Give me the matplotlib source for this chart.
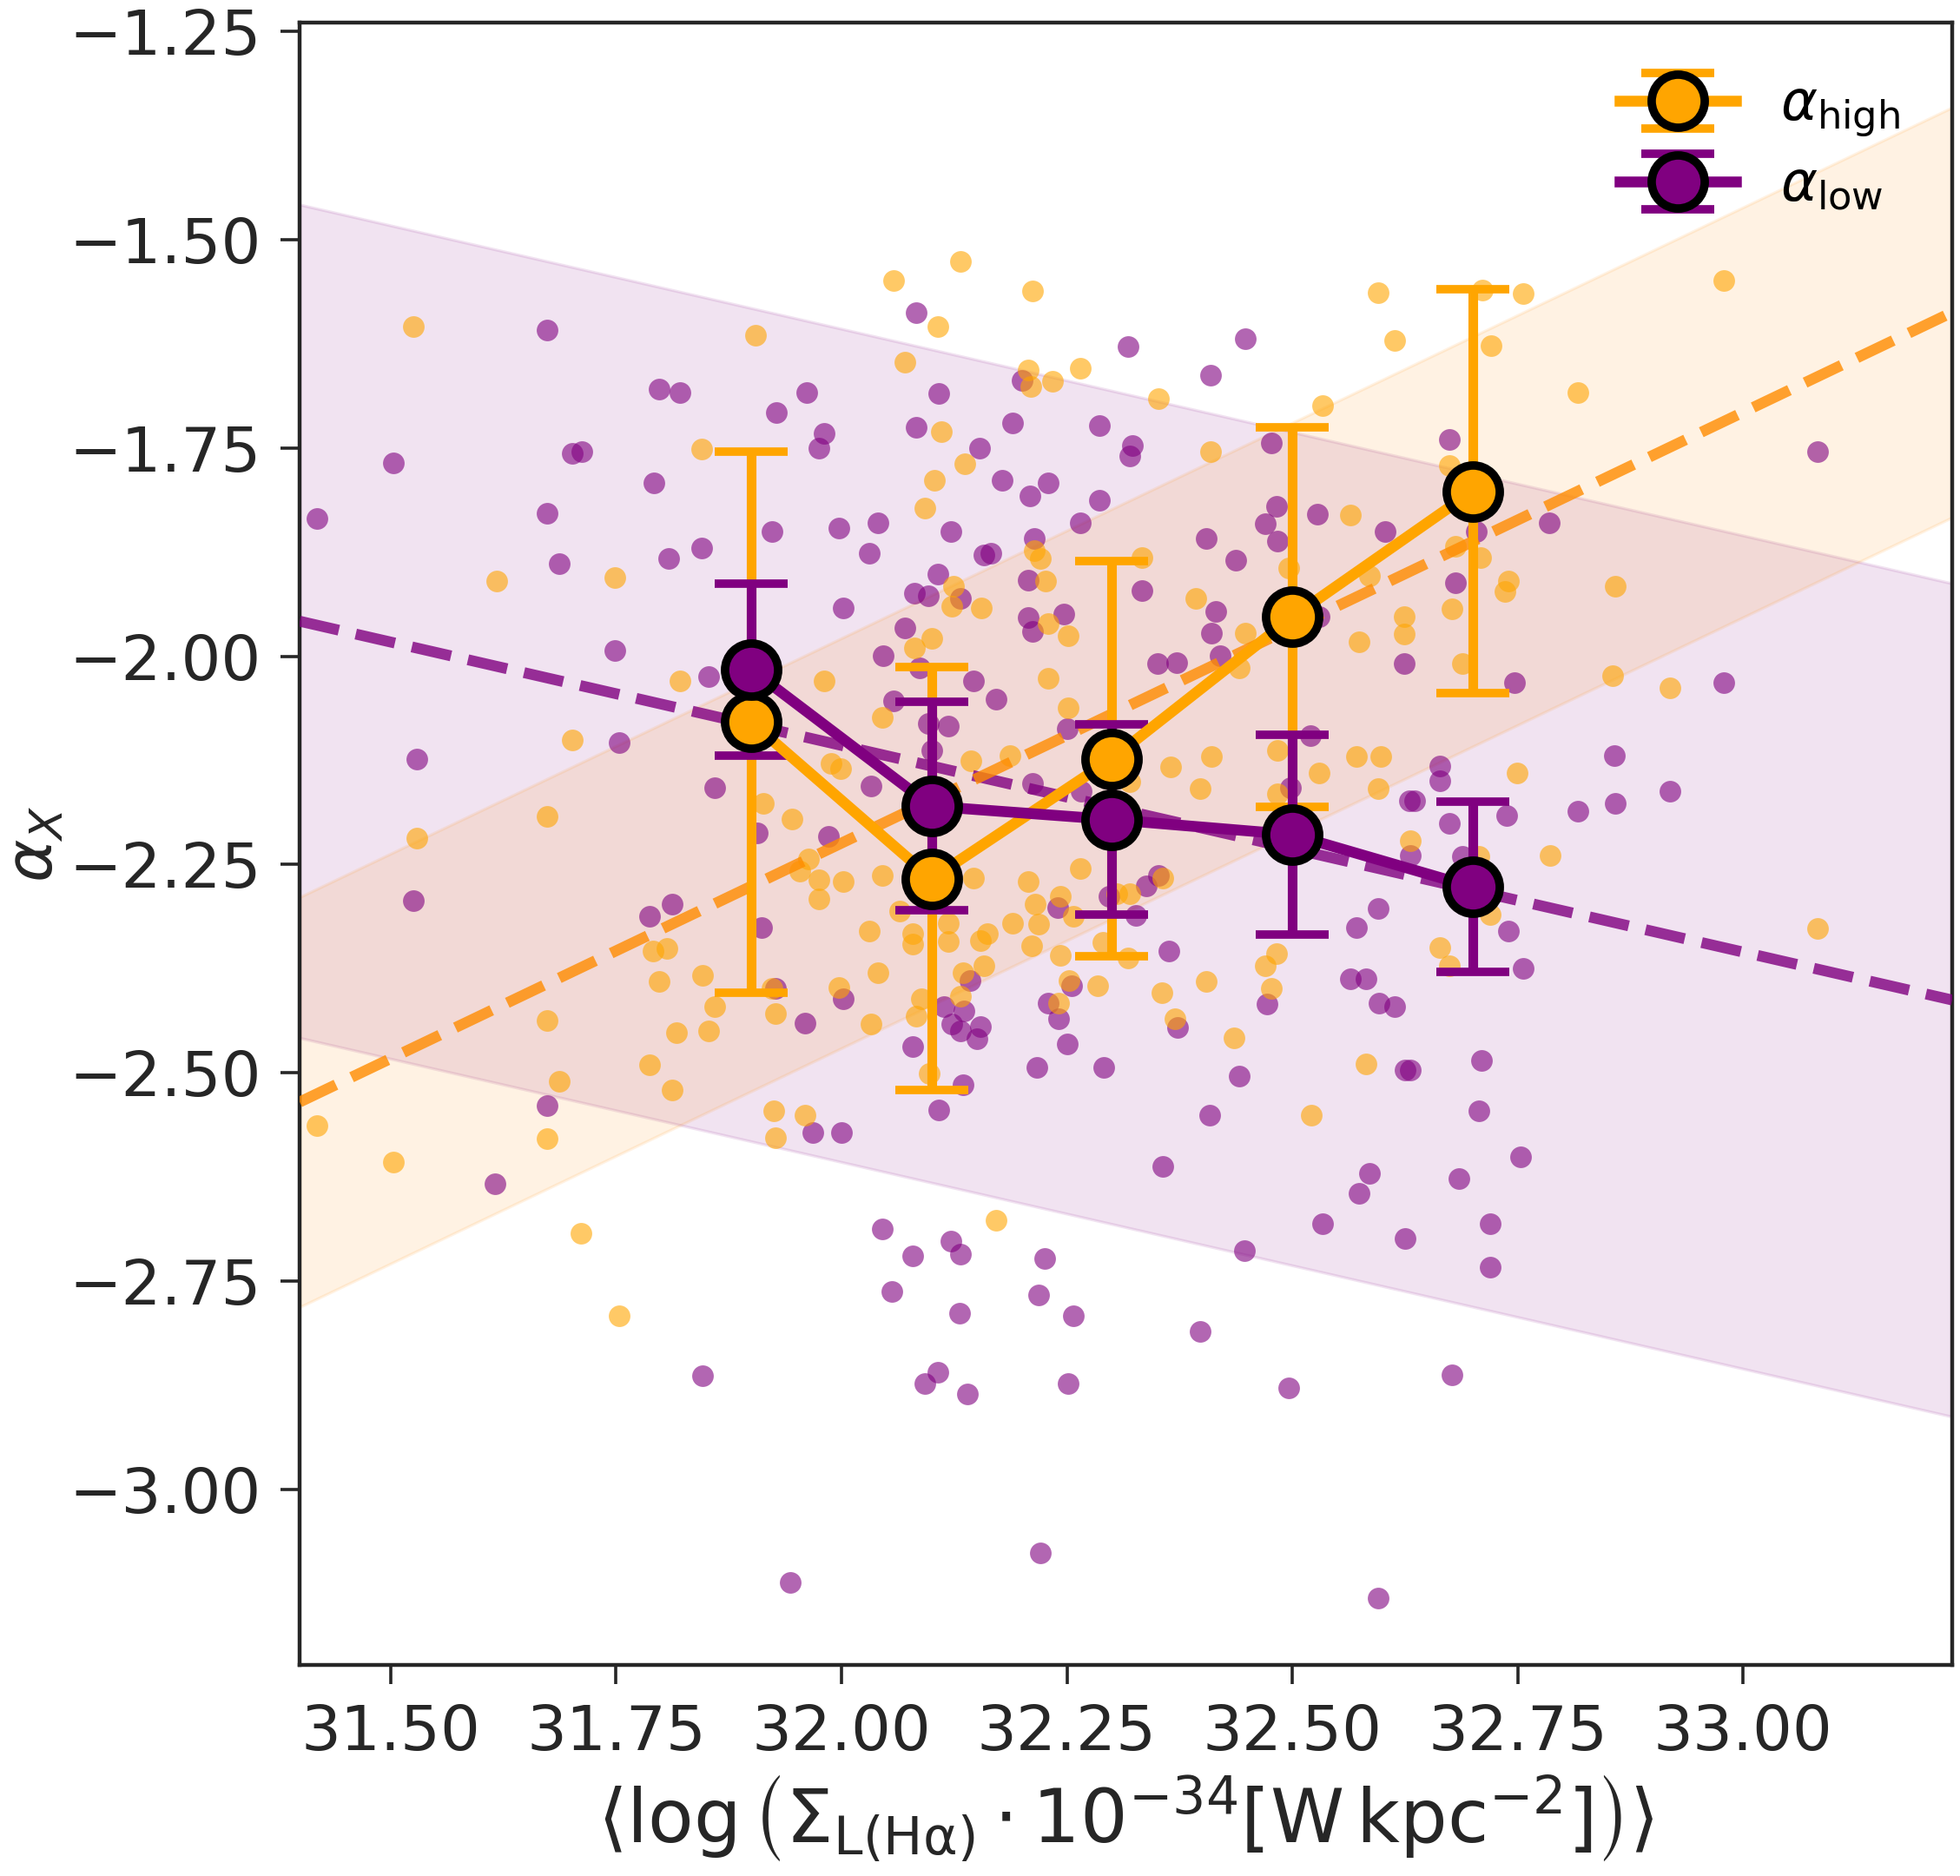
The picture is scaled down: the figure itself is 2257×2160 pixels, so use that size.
import numpy as np
import matplotlib.pyplot as plt

# ---- binned means ----
bin_x = np.array([31.90, 32.10, 32.30, 32.50, 32.70])
high_mean = np.array([-2.079, -2.267, -2.123, -1.953, -1.802])
high_err = np.array([0.325, 0.254, 0.237, 0.228, 0.242])
low_mean = np.array([-2.016, -2.180, -2.196, -2.214, -2.277])
low_err = np.array([0.103, 0.125, 0.114, 0.120, 0.102])

# ---- linear fits (value at x=32.25, slope, band half-width) ----
high_fit = (-2.095, 0.517, 0.246)
low_fit = (-2.169, -0.248, 0.50)

# ---- individual measurements ----
high_x = np.array([
    31.525, 31.905, 31.618, 31.749, 31.845, 31.821, 31.981, 32.058, 32.132, 32.212,
    32.107, 32.595, 32.614, 32.070, 32.207, 32.210, 32.234, 32.265, 32.352, 32.534,
    32.111, 32.409, 32.137, 32.103, 32.092, 32.214, 32.221, 32.333, 32.496, 32.586,
    32.226, 32.124, 32.122, 32.155, 32.393, 32.448, 32.229, 32.251, 32.100, 32.081,
    32.229, 32.441, 32.574, 32.624, 32.624, 32.564, 32.711, 32.756, 32.721, 32.817,
    32.979, 32.674, 32.681, 32.709, 32.740, 32.736, 32.858, 32.677, 32.689, 32.855,
    32.919, 32.749, 32.786, 32.707, 32.631, 32.720, 32.664, 32.674, 33.083, 31.701,
    31.673, 31.529, 31.913, 31.945, 31.988, 31.999, 31.963, 31.954, 31.975, 32.002,
    31.975, 31.791, 31.806, 31.798, 31.846, 31.859, 31.817, 31.853, 31.673, 31.787,
    31.812, 31.687, 31.418, 31.673, 31.503, 31.923, 31.927, 31.997, 31.925, 31.960,
    31.927, 31.711, 31.753, 32.171, 32.045, 32.251, 32.144, 32.187, 32.365, 32.410,
    32.398, 32.484, 32.571, 32.598, 32.530, 32.595, 32.484, 32.320, 32.045, 32.065,
    32.031, 32.079, 32.079, 32.118, 32.118, 32.146, 32.162, 32.154, 32.190, 32.207,
    32.215, 32.219, 32.211, 32.243, 32.257, 32.265, 32.243, 32.040, 32.158, 32.135,
    32.252, 32.284, 32.305, 32.320, 32.356, 32.318, 32.290, 32.405, 32.355, 32.241,
    32.370, 32.435, 32.483, 32.470, 32.477, 32.582, 32.521, 32.132, 32.089, 32.033,
    32.083, 32.097,
])
high_y = np.array([
    -1.604, -1.615, -1.910, -1.906, -1.751, -2.030, -2.030, -1.549, -1.526, -1.562,
    -1.604, -1.564, -1.621, -1.647, -1.657, -1.676, -1.670, -1.654, -1.691, -1.699,
    -1.730, -1.754, -1.769, -1.789, -1.822, -1.873, -1.883, -1.882, -1.894, -1.903,
    -1.910, -1.916, -1.940, -1.942, -1.931, -1.972, -1.961, -1.975, -1.979, -1.990,
    -2.026, -2.014, -1.983, -1.952, -1.973, -1.831, -1.561, -1.565, -1.627, -1.684,
    -1.549, -1.771, -1.868, -1.882, -1.910, -1.922, -1.916, -1.943, -2.009, -2.023,
    -2.038, -2.140, -2.239, -2.240, -2.221, -2.310, -2.350, -2.371, -2.327, -2.100,
    -2.192, -2.218, -2.177, -2.195, -2.129, -2.135, -2.243, -2.258, -2.268, -2.270,
    -2.291, -2.354, -2.351, -2.390, -2.383, -2.420, -2.452, -2.450, -2.437, -2.490,
    -2.521, -2.510, -2.563, -2.579, -2.607, -2.399, -2.429, -2.398, -2.546, -2.551,
    -2.578, -2.692, -2.792, -2.677, -2.073, -2.062, -2.126, -2.119, -2.133, -2.120,
    -2.159, -2.113, -2.120, -2.120, -2.140, -2.159, -2.165, -2.150, -2.263, -2.306,
    -2.330, -2.345, -2.333, -2.320, -2.342, -2.266, -2.333, -2.341, -2.320, -2.270,
    -2.297, -2.321, -2.348, -2.288, -2.312, -2.255, -2.359, -2.380, -2.371, -2.380,
    -2.389, -2.395, -2.285, -2.285, -2.266, -2.362, -2.343, -2.390, -2.404, -2.416,
    -2.435, -2.458, -2.357, -2.371, -2.399, -2.489, -2.551, -2.408, -2.411, -2.441,
    -2.432, -2.501,
])

low_x = np.array([
    31.673, 31.798, 31.821, 31.961, 31.928, 31.981, 31.975, 31.503, 31.701, 31.712,
    31.792, 31.418, 31.673, 31.923, 31.997, 31.687, 31.808, 31.845, 32.002, 31.749,
    31.853, 32.083, 32.318, 32.448, 32.409, 32.200, 32.108, 32.083, 32.190, 32.286,
    32.153, 32.323, 32.320, 32.477, 32.178, 32.229, 32.209, 32.286, 32.040, 32.031,
    32.121, 32.265, 32.483, 32.470, 32.484, 32.528, 32.603, 32.214, 32.158, 32.166,
    32.405, 32.437, 32.107, 32.207, 32.333, 32.081, 32.096, 32.132, 32.415, 32.410,
    32.207, 32.212, 32.247, 32.070, 32.046, 32.087, 32.146, 32.351, 32.372, 32.420,
    32.530, 32.624, 32.674, 33.083, 32.785, 32.704, 32.681, 32.747, 32.979, 32.857,
    32.664, 32.664, 32.636, 32.919, 32.858, 32.817, 32.738, 32.674, 32.689, 32.631,
    32.740, 32.756, 32.710, 32.631, 32.707, 32.753, 32.685, 32.720, 32.720, 32.677,
    31.529, 31.525, 31.753, 31.859, 31.907, 31.986, 31.787, 31.812, 31.911, 31.673,
    31.616, 31.927, 31.960, 32.002, 31.968, 32.000, 31.846, 31.943, 32.045, 32.121,
    32.132, 32.079, 32.225, 32.056, 32.219, 32.131, 32.257, 32.398, 32.107, 32.092,
    32.140, 32.251, 32.496, 32.221, 32.595, 32.447, 32.534, 32.574, 32.625, 32.058,
    32.171, 32.096, 32.118, 32.100, 32.033, 32.250, 32.212, 32.266, 32.520, 32.498,
    32.630, 32.240, 32.297, 32.338, 32.352, 32.327, 32.363, 32.143, 32.255, 32.229,
    32.241, 32.373, 32.250, 32.472, 32.564, 32.582, 32.596, 32.614, 32.595, 32.571,
    32.625, 32.441, 32.408, 32.356, 32.586, 32.291, 32.217, 32.079, 32.135, 32.108,
    32.114, 32.122, 32.132, 32.136, 32.154, 32.150,
])
low_y = np.array([
    -1.609, -1.679, -1.684, -1.684, -1.708, -1.733, -1.750, -1.768, -1.757, -1.754,
    -1.792, -1.835, -1.828, -1.850, -1.846, -1.889, -1.883, -1.870, -1.942, -1.993,
    -2.024, -1.588, -1.628, -1.619, -1.663, -1.669, -1.685, -1.725, -1.720, -1.723,
    -1.750, -1.747, -1.760, -1.744, -1.789, -1.792, -1.808, -1.813, -1.840, -1.876,
    -1.850, -1.840, -1.820, -1.841, -1.862, -1.829, -1.850, -1.859, -1.879, -1.876,
    -1.859, -1.885, -1.901, -1.909, -1.921, -1.924, -1.927, -1.931, -1.946, -1.972,
    -1.954, -1.970, -1.949, -1.966, -1.999, -2.014, -2.030, -2.009, -2.008, -1.999,
    -1.952, -2.009, -1.740, -1.754, -1.840, -1.850, -1.912, -2.032, -2.032, -2.119,
    -2.132, -2.149, -2.173, -2.162, -2.177, -2.186, -2.191, -2.201, -2.240, -2.239,
    -2.330, -2.375, -2.485, -2.497, -2.546, -2.601, -2.627, -2.681, -2.733, -2.862,
    -2.123, -2.293, -2.104, -2.158, -2.212, -2.216, -2.312, -2.297, -2.326, -2.539,
    -2.633, -2.399, -2.440, -2.411, -2.572, -2.572, -2.863, -3.112, -2.687, -2.702,
    -2.717, -2.720, -2.723, -2.762, -2.767, -2.788, -2.792, -2.810, -2.859, -2.873,
    -2.885, -2.873, -2.878, -3.076, -3.130, -2.713, -2.681, -2.645, -2.699, -2.054,
    -2.051, -2.081, -2.084, -2.113, -2.156, -2.087, -2.153, -2.162, -2.095, -2.158,
    -2.173, -2.302, -2.288, -2.276, -2.263, -2.311, -2.354, -2.389, -2.395, -2.416,
    -2.435, -2.446, -2.465, -2.417, -2.387, -2.387, -2.416, -2.420, -2.303, -2.326,
    -2.497, -2.504, -2.551, -2.612, -2.621, -2.493, -2.493, -2.468, -2.514, -2.544,
    -2.420, -2.441, -2.450, -2.426, -2.444, -2.459,
])

c_high = "orange"
c_low = "purple"
x_lim = (31.399, 33.232)
y_lim = (-3.2105, -1.2395)

plt.rcParams["font.family"] = "DejaVu Sans"
plt.rcParams["mathtext.fontset"] = "dejavusans"

fig = plt.figure(figsize=(11.285, 10.8), dpi=200)
ax = fig.add_axes([0.1529, 0.1125, 0.8431, 0.8755])

# fit lines and bands
xx = np.linspace(x_lim[0], x_lim[1], 50)
for (y0, slope, half), col in [(low_fit, c_low), (high_fit, "darkorange")]:
    yy = y0 + slope * (xx - 32.25)
    ax.fill_between(xx, yy - half, yy + half, color=col, alpha=0.11, lw=1.2, zorder=1)
    ax.plot(xx, yy, ls="--", color=col, alpha=0.8, lw=4.5, zorder=3)

# scatter of individual values
ax.scatter(low_x, low_y, s=80, color=c_low, alpha=0.6, lw=0, zorder=2)
ax.scatter(high_x, high_y, s=80, color=c_high, alpha=0.6, lw=0, zorder=2)

# binned means
eb_h = ax.errorbar(bin_x, high_mean, yerr=high_err, fmt="o-", color=c_high, lw=4.5,
                   ms=22, mfc=c_high, mec="black", mew=3.5, elinewidth=4,
                   capsize=15, capthick=3, label=r"$\alpha_{\rm high}$")
eb_l = ax.errorbar(bin_x, low_mean, yerr=low_err, fmt="o-", color=c_low, lw=4.5,
                   ms=22, mfc=c_low, mec="black", mew=3.5, elinewidth=4,
                   capsize=15, capthick=3, label=r"$\alpha_{\rm low}$")
for eb, zb, zl in [(eb_h, 4, 6), (eb_l, 5, 7)]:
    eb[0].set_zorder(zl)
    for c in eb[1]:
        c.set_zorder(zb)
    for c in eb[2]:
        c.set_zorder(zb)

ax.set_xlim(*x_lim)
ax.set_ylim(*y_lim)
ax.set_xticks([31.50, 31.75, 32.00, 32.25, 32.50, 32.75, 33.00])
ax.set_yticks([-3.00, -2.75, -2.50, -2.25, -2.00, -1.75, -1.50, -1.25])
fmt = plt.FuncFormatter(lambda v, pos: f"{v:.2f}".replace("-", "\u2212"))
ax.xaxis.set_major_formatter(fmt)
ax.yaxis.set_major_formatter(fmt)
ax.tick_params(axis="both", direction="out", length=8, width=1.3,
               color="#262626", labelsize=26, labelcolor="#262626", pad=8)

for sp in ax.spines.values():
    sp.set_color("#262626")
    sp.set_linewidth(1.6)

ax.set_xlabel(r"$\langle\log\left(\Sigma_{\mathrm{L(H\alpha)}}\cdot 10^{-34}[\mathrm{W\,kpc^{-2}}]\right)\rangle$",
              fontsize=31, color="#262626", labelpad=4)
ax.set_ylabel(r"$\alpha_X$", fontsize=27, color="#262626", va="center")
ax.yaxis.set_label_coords(-0.16, 0.5)

ax.legend(loc="upper right", bbox_to_anchor=(0.982, 0.98), borderaxespad=0,
          frameon=False, fontsize=23, handlelength=2.1, borderpad=0.4,
          labelspacing=0.35, handletextpad=0.8)

fig.savefig("out.png", dpi=200, facecolor="white")
